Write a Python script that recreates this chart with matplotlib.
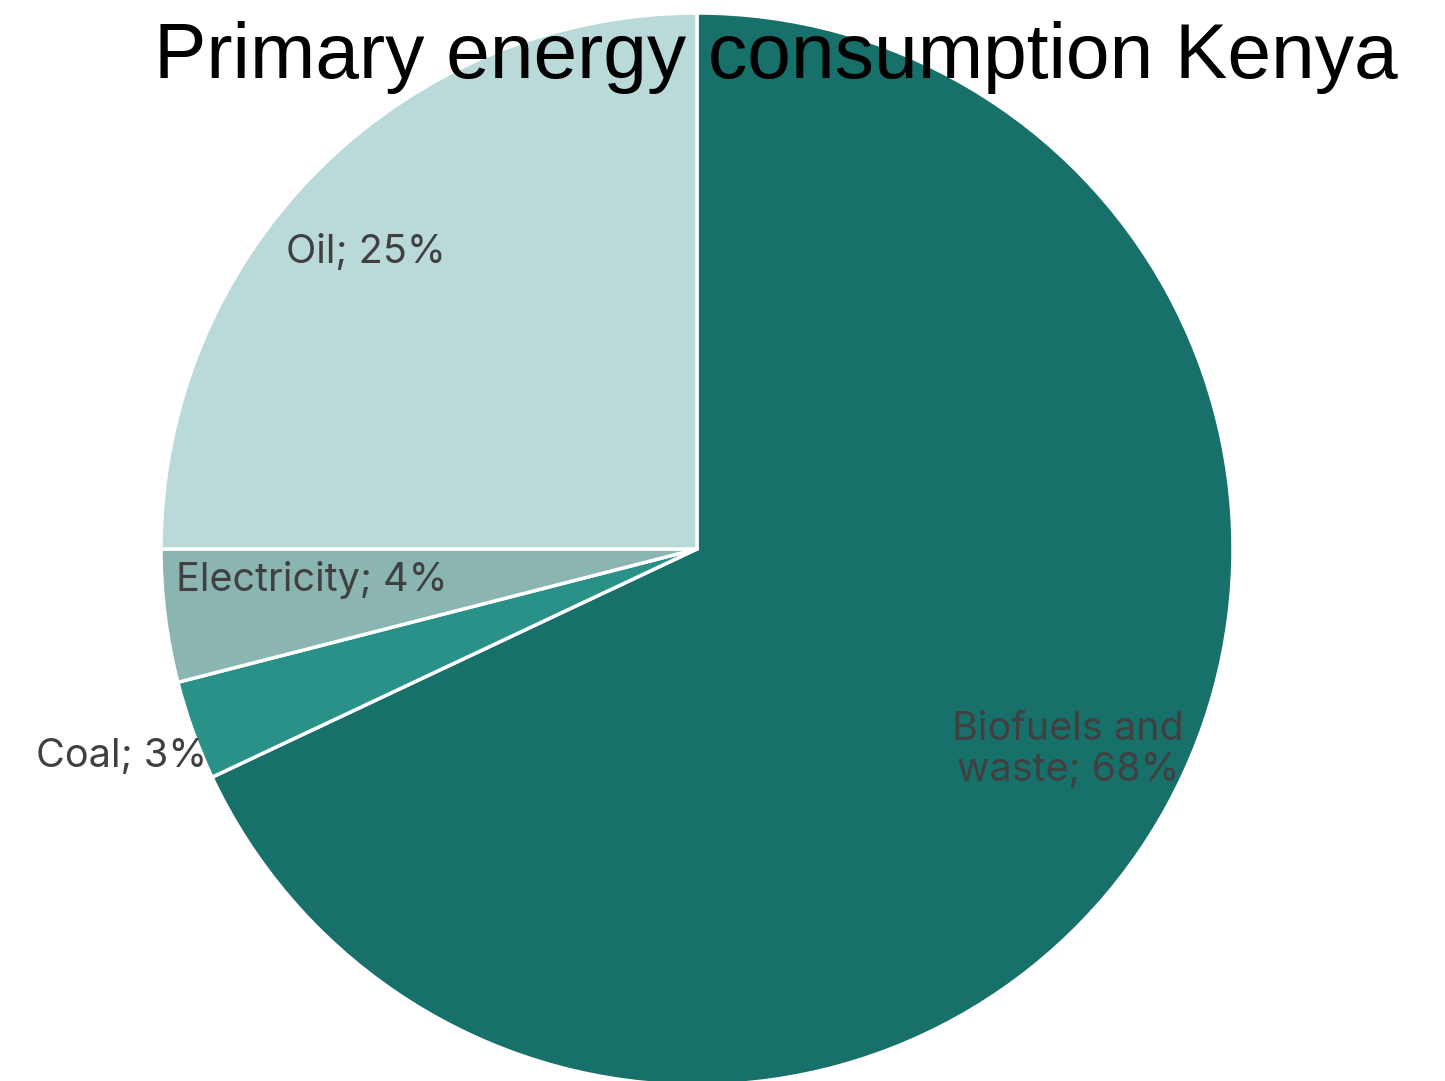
import matplotlib
matplotlib.use("Agg")
import matplotlib.pyplot as plt

categories = ["Biofuels and\nwaste", "Coal", "Electricity", "Oil"]
values = [68, 3, 4, 25]
colors = ["#18706A", "#2A9188", "#8AB5B0", "#BADAD9"]
label_pos = [(1068, 750), (122, 756), (312, 580), (366, 253)]  # pixel centers
title = "Primary energy consumption Kenya"

W, H = 1445, 1081
cx, cy, R = 697, 549, 536

fig = plt.figure(figsize=(W / 100, H / 100), dpi=100)
ax = fig.add_axes([0, 0, 1, 1])
ax.pie(values, colors=colors, startangle=90, counterclock=False, radius=1,
       wedgeprops=dict(edgecolor="white", linewidth=2.5))
ax.set_aspect("auto")
ax.set_xlim(-cx / R, (W - cx) / R)
ax.set_ylim(-(H - cy) / R, cy / R)
ax.axis("off")

for cat, v, (px, py) in zip(categories, values, label_pos):
    ax.text((px - cx) / R, (cy - py) / R, f"{cat}; {v}%", ha="center", va="center",
            fontsize=28.5, color="#404040", family=["Inter", "DejaVu Sans"],
            linespacing=1.15)

fig.text(1398 / W, 1 - 58 / H, title, ha="right", va="center", fontsize=56.5,
         color="black", family=["Liberation Sans", "DejaVu Sans"])

fig.savefig("out.png", dpi=100)
